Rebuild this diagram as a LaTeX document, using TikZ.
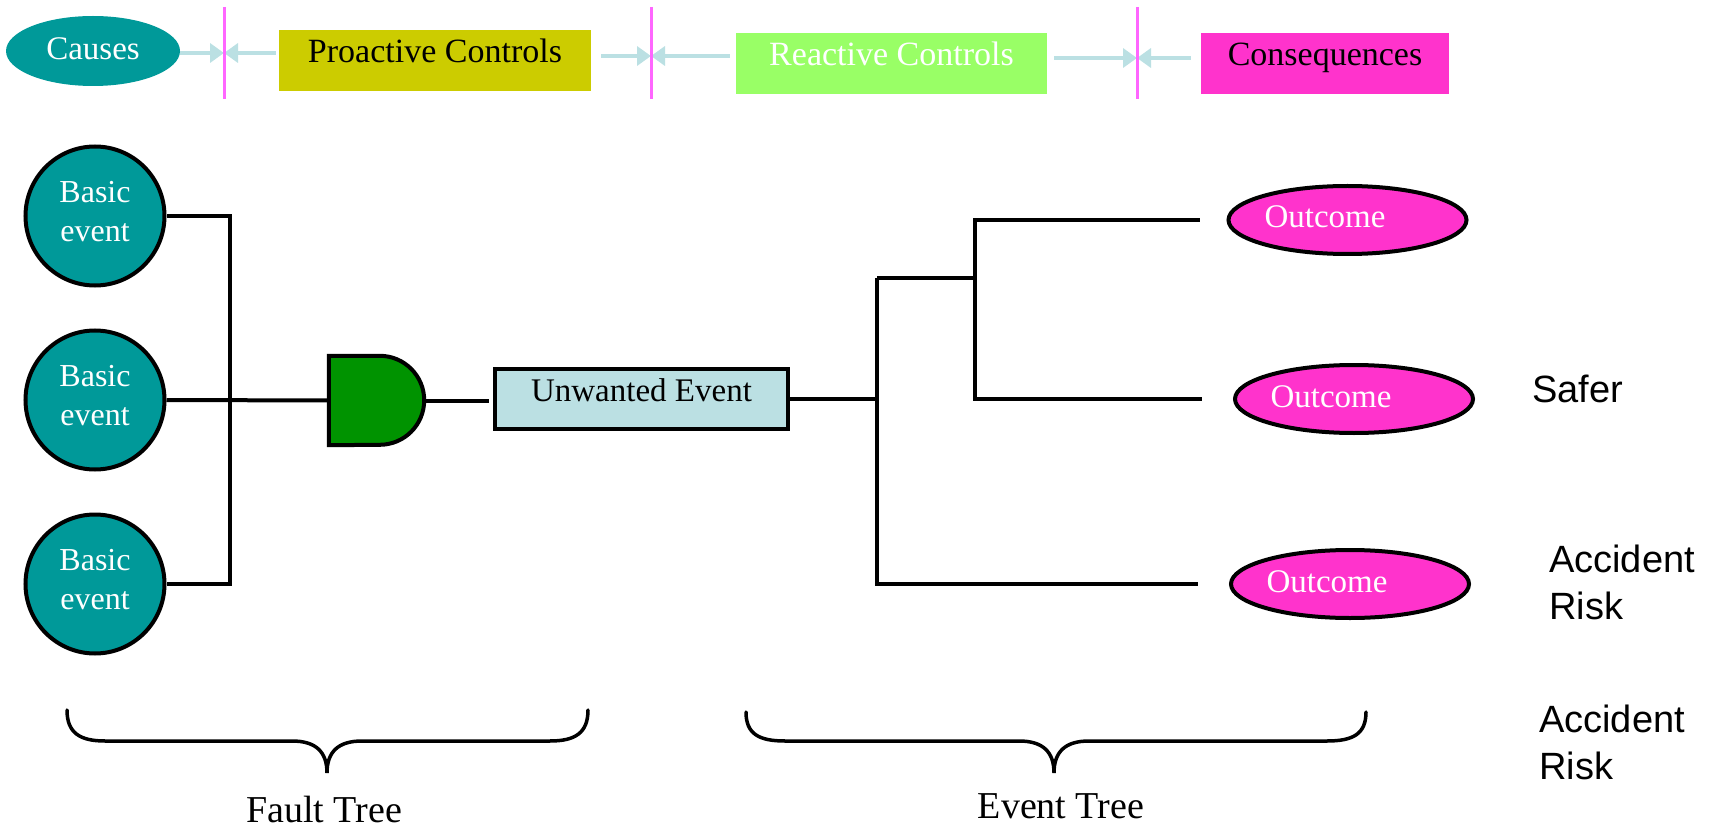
\documentclass[tikz,border=0pt]{standalone}
\usepackage{fontspec}
\setmainfont{Liberation Serif}
\newfontfamily\labelsans{Liberation Sans}
\usetikzlibrary{arrows.meta,shapes.geometric}

\definecolor{causeteal}{HTML}{009999}
\definecolor{proyellow}{HTML}{CCCC00}
\definecolor{reactgreen}{HTML}{99FF66}
\definecolor{conspink}{HTML}{FF33CC}
\definecolor{gategreen}{HTML}{009300}
\definecolor{uefill}{HTML}{BBE0E3}
\definecolor{flowcyan}{HTML}{BBE0E3}
\definecolor{markpink}{HTML}{FF66FF}

\tikzset{
  topbox/.style={rectangle, inner sep=0pt, minimum height=61pt,
    text height=24pt, text depth=20pt,
    font=\fontsize{34pt}{40pt}\selectfont},
  flow/.style={draw=flowcyan, line width=4pt,
    -{Triangle[length=14pt,width=19pt]}},
  marker/.style={draw=markpink, line width=3pt},
  basic/.style={circle, draw=black, line width=4pt, fill=causeteal,
    minimum size=139pt, inner sep=0pt, text=white, align=center,
    font=\fontsize{32pt}{39pt}\selectfont},
  wire/.style={draw=black, line width=4pt},
  outcome/.style={ellipse, draw=black, line width=4pt, fill=conspink,
    minimum width=238pt, minimum height=68pt, inner sep=0pt, text=white,
    text height=24pt, text depth=8pt,
    font=\fontsize{33pt}{40pt}\selectfont},
  sidelabel/.style={inner sep=0pt, align=left,
    font=\labelsans\fontsize{38pt}{47pt}\selectfont},
  brace/.style={draw=black, line width=3.5pt, line cap=round},
  treename/.style={inner sep=0pt, anchor=base,
    font=\fontsize{38pt}{45pt}\selectfont},
}

\begin{document}
\begin{tikzpicture}[x=1pt, y=-1pt]
\useasboundingbox (0,0) rectangle (1717,829);

% ---- control band along the top ----
\node[ellipse, fill=causeteal, minimum width=174pt, minimum height=70pt,
  inner sep=0pt, text=white, text height=24pt, text depth=6pt,
  font=\fontsize{33pt}{40pt}\selectfont] (causes) at (93,51) {Causes};
\node[topbox, fill=proyellow, minimum width=312pt] (proactive) at (435,61) {Proactive Controls};
\node[topbox, fill=reactgreen, minimum width=311pt, text=white] (reactive) at (891.5,63.5) {Reactive Controls};
\node[topbox, fill=conspink, minimum width=248pt] (consequences) at (1325,63.5) {Consequences};

\coordinate (m1) at (224,53);
\coordinate (m2) at (651,56);
\coordinate (m3) at (1137,58);

\draw[flow] (causes.east |- m1) -- (m1);
\draw[flow] ([xshift=-3pt]proactive.west |- m1) -- (m1);
\draw[flow] ([xshift=10pt]proactive.east |- m2) -- (m2);
\draw[flow] ([xshift=-6pt]reactive.west |- m2) -- (m2);
\draw[flow] ([xshift=7pt]reactive.east |- m3) -- (m3);
\draw[flow] ([xshift=-10pt]consequences.west |- m3) -- (m3);

\draw[marker] ([yshift=46pt]m1) -- ([yshift=-46pt]m1);
\draw[marker] ([yshift=49pt]m2) -- ([yshift=-43pt]m2);
\draw[marker] ([yshift=51pt]m3) -- ([yshift=-41pt]m3);

% ---- fault tree ----
\node[basic] (b1) at (95,216) {Basic\\event\rule[-10pt]{0pt}{1pt}};
\node[basic] (b2) at (95,400) {Basic\\event\rule[-10pt]{0pt}{1pt}};
\node[basic] (b3) at (95,584) {Basic\\event\rule[-10pt]{0pt}{1pt}};

\node[minimum width=95pt, minimum height=89pt, inner sep=0pt] (gate) at (376.5,400.5) {};
\filldraw[fill=gategreen, draw=black, line width=4pt]
  (gate.south west) -- (gate.north west) -- ([xshift=-44.5pt]gate.north east)
  arc[start angle=90, end angle=-90, radius=44.5pt] -- cycle;

\coordinate (ftbus) at (230,400);
\draw[wire] (b1.east) -| (ftbus) |- (b3.east);
\draw[wire] (b2.east) -- (gate.west);

\node[draw=black, line width=4pt, fill=uefill, minimum width=293pt,
  minimum height=60pt, inner sep=0pt, text height=24pt, text depth=20pt,
  font=\fontsize{33pt}{40pt}\selectfont] (ue) at (641.5,399) {Unwanted Event};
\draw[wire, shorten >=4pt] (gate.east) -- (gate.east -| ue.west);

% ---- event tree ----
\node[outcome] (o1) at (1347.5,220) {Outcome\hspace*{45pt}};
\node[outcome] (o2) at (1354,399) {Outcome\hspace*{46pt}};
\node[outcome] (o3) at (1350,584) {Outcome\hspace*{46pt}};

\coordinate (etbus) at (877,399);
\coordinate (etfork) at (975,278);
\draw[wire] (ue.east) -- (etbus);
\draw[wire] (etbus |- etfork) -- (etfork);
\draw[wire] (etbus |- etfork) -- (etbus |- o3) -- ([xshift=-31pt]o3.west);
\draw[wire] ([xshift=-27pt]o1.west) -| (etfork) |- ([xshift=-31pt]o2.west);

\node[sidelabel, anchor=base west] (safer) at (1532,402) {Safer};
\node[sidelabel, anchor=north west] (riskA) at (1549,545) {Accident\\Risk};
\node[sidelabel, anchor=north west] (riskB) at (1539,705) {Accident\\Risk};

% ---- braces and their captions ----
\draw[brace] (67,710) .. controls (67,733) and (80,741) .. (105,741)
  -- (292,741) .. controls (316,741) and (327,752) .. (327,773)
  .. controls (327,752) and (338,741) .. (362,741)
  -- (550,741) .. controls (575,741) and (588,733) .. (588,710);
\draw[brace] (746,712) .. controls (746,734) and (759,741) .. (785,741)
  -- (1019,741) .. controls (1043,741) and (1054,752) .. (1054,773)
  .. controls (1054,752) and (1065,741) .. (1089,741)
  -- (1327,741) .. controls (1353,741) and (1366,734) .. (1366,712);

\node[treename] (ftname) at (324,822) {Fault Tree};
\node[treename] (etname) at (1061,818) {Event Tree};
\end{tikzpicture}
\end{document}
